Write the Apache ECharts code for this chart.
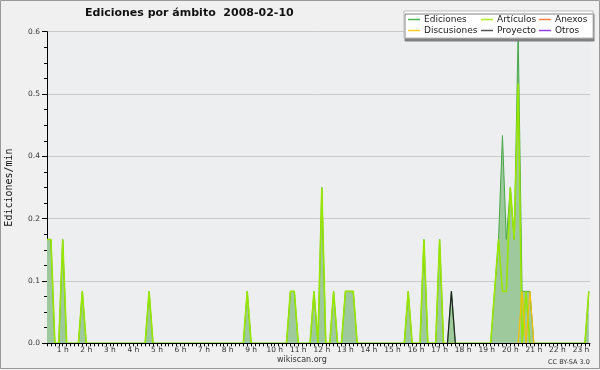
<!DOCTYPE html>
<html>
<head>
<meta charset="utf-8">
<script src="https://cdn.jsdelivr.net/npm/echarts@6/dist/echarts.min.js"></script>
<style>
html,body{margin:0;padding:0;background:#f0f0f0;}
#c{width:600px;height:370px;}
</style>
</head>
<body>
<div id="c"></div>
<script>
// 10-minute bins (index along the day)
const hourLabels = ['1 h','2 h','3 h','4 h','5 h','6 h','7 h','8 h','9 h','10 h','11 h','12 h','13 h','14 h','15 h','16 h','17 h','18 h','19 h','20 h','21 h','22 h','23 h'];

const ediciones = [
 0.2,0.2,0,0,0.2,0,0,0,0,0.1,
 0,0,0,0,0,0,0,0,0,0,
 0,0,0,0,0,0,0.1,0,0,0,
 0,0,0,0,0,0,0,0,0,0,
 0,0,0,0,0,0,0,0,0,0,
 0,0.1,0,0,0,0,0,0,0,0,
 0,0,0.1,0.1,0,0,0,0,0.1,0,
 0.3,0,0,0.1,0,0,0.1,0.1,0.1,0,
 0,0,0,0,0,0,0,0,0,0,
 0,0,0.1,0,0,0,0.2,0,0,0,
 0.2,0,0,0.1,0,0,0,0,0,0,
 0,0,0,0,0.1,0.2,0.4,0.2,0.3,0.2,
 0.6,0.1,0.1,0.1,0,0,0,0,0,0,
 0,0,0,0,0,0,0,0,0.1
];
const articulos = [
 0.2,0.2,0,0,0.2,0,0,0,0,0.1,
 0,0,0,0,0,0,0,0,0,0,
 0,0,0,0,0,0,0.1,0,0,0,
 0,0,0,0,0,0,0,0,0,0,
 0,0,0,0,0,0,0,0,0,0,
 0,0.1,0,0,0,0,0,0,0,0,
 0,0,0.1,0.1,0,0,0,0,0.1,0,
 0.3,0,0,0.1,0,0,0.1,0.1,0.1,0,
 0,0,0,0,0,0,0,0,0,0,
 0,0,0.1,0,0,0,0.2,0,0,0,
 0.2,0,0,0,0,0,0,0,0,0,
 0,0,0,0,0.1,0.2,0.1,0.1,0.3,0.2,
 0.5,0,0.1,0,0,0,0,0,0,0,
 0,0,0,0,0,0,0,0,0.1
];
const anexos = [];
const discusionesIdx = [120,121,122,123,124];
const discusionesVal = [0,0.1,0,0.1,0];
const proyectoIdx = [102,103,104];
const proyectoVal = [0,0.1,0];
const otros = [];

const toPairs = arr => arr.map((v,i)=>[i,v]);
const zip = (a,b) => a.map((x,i)=>[x,b[i]]);

const chart = echarts.init(document.getElementById('c'));
const FONT = 'DejaVu Sans';
const legendBase = {
  orient:'vertical', icon:'rect', itemWidth:12, itemHeight:1.5, itemGap:0,
  padding:0, top:14, z:20, selectedMode:false,
  textStyle:{fontFamily:FONT, fontSize:9, color:'#222', lineHeight:11, padding:[0,0,0,-1]}
};
chart.setOption({
  backgroundColor:'#f0f0f0',
  animation:false,
  title:{text:'Ediciones por ámbito  2008-02-10', left:85, top:8, padding:0,
    textStyle:{fontFamily:FONT, fontSize:11, fontWeight:'bold', color:'#111'}},
  graphic:[
    {type:'rect', z:-1, shape:{x:0.5,y:0.5,width:599,height:368}, style:{fill:'none', stroke:'#999', lineWidth:1}},
    {type:'rect', z:15, shape:{x:404,y:11,width:189,height:27},
      style:{fill:'#ffffff', stroke:'#bbbbbb', lineWidth:1, shadowColor:'#808080', shadowOffsetX:1, shadowOffsetY:3, shadowBlur:0}},
    {type:'text', z:15, left:277, top:356, style:{text:'wikiscan.org', fontFamily:FONT, fontSize:8, fill:'#333'}},
    {type:'text', z:15, left:548, top:359, style:{text:'CC BY-SA 3.0', fontFamily:FONT, fontSize:6.5, fill:'#333'}}
  ],
  legend:[
    Object.assign({}, legendBase, {left:408, data:['Ediciones','Discusiones']}),
    Object.assign({}, legendBase, {left:481, data:['Artículos','Proyecto']}),
    Object.assign({}, legendBase, {left:539, data:['Anexos','Otros']})
  ],
  grid:{left:47, right:10, top:31.7, bottom:26.7, show:true, backgroundColor:'#edeef0', borderWidth:0,
    containLabel:false, outerBoundsMode:'none'},
  xAxis:{type:'value', min:0, max:138.3, interval:1, z:10,
    axisLine:{onZero:false, lineStyle:{color:'#000', width:1}},
    axisTick:{length:3, lineStyle:{color:'#000'}},
    splitLine:{show:false},
    axisLabel:{margin:3, fontFamily:FONT, fontSize:7.5, color:'#333', showMinLabel:true, showMaxLabel:false,
      formatter:v => { const k = Math.round(v); if (Math.abs(v-k)>1e-6) return ''; return ((k+2)%6===0 && hourLabels[(k+2)/6-1]) ? hourLabels[(k+2)/6-1] : ''; }}
  },
  yAxis:{type:'value', min:0, max:0.6, interval:0.12,
    name:'Ediciones/min', nameLocation:'middle', nameGap:33, nameRotate:90,
    nameTextStyle:{fontFamily:'DejaVu Sans Mono', fontSize:10, color:'#111'},
    axisLine:{show:true, lineStyle:{color:'#000', width:1}},
    axisTick:{show:true, length:5, lineStyle:{color:'#000'}},
    minorTick:{show:true, splitNumber:4, length:3, lineStyle:{color:'#000'}},
    splitLine:{show:true, lineStyle:{color:'#c9c9c9', width:1}},
    axisLabel:{margin:7, fontFamily:FONT, fontSize:7.5, color:'#333', formatter:v => v.toFixed(1)}
  },
  series:[
    {name:'Ediciones', type:'line', symbol:'none', color:'#55b055', data:toPairs(ediciones),
      lineStyle:{color:'#46a846', width:1}, areaStyle:{color:'#9dc99d', opacity:1}, z:2},
    {name:'Artículos', type:'line', symbol:'none', color:'#aaee22', data:toPairs(articulos),
      lineStyle:{color:'#99e600', width:1.6}, z:3},
    {name:'Anexos', type:'line', symbol:'none', color:'#ff8040', data:anexos, lineStyle:{color:'#ff8040', width:1.2}, z:3},
    {name:'Discusiones', type:'line', symbol:'none', color:'#ffcc22', data:zip(discusionesIdx,discusionesVal),
      lineStyle:{color:'#f5c000', width:1.2}, z:4},
    {name:'Proyecto', type:'line', symbol:'none', color:'#555555', data:zip(proyectoIdx,proyectoVal),
      lineStyle:{color:'#222222', width:1.2}, z:4},
    {name:'Otros', type:'line', symbol:'none', color:'#9040ee', data:otros, lineStyle:{color:'#9040ee', width:1.2}, z:3}
  ]
});
</script>
</body>
</html>
